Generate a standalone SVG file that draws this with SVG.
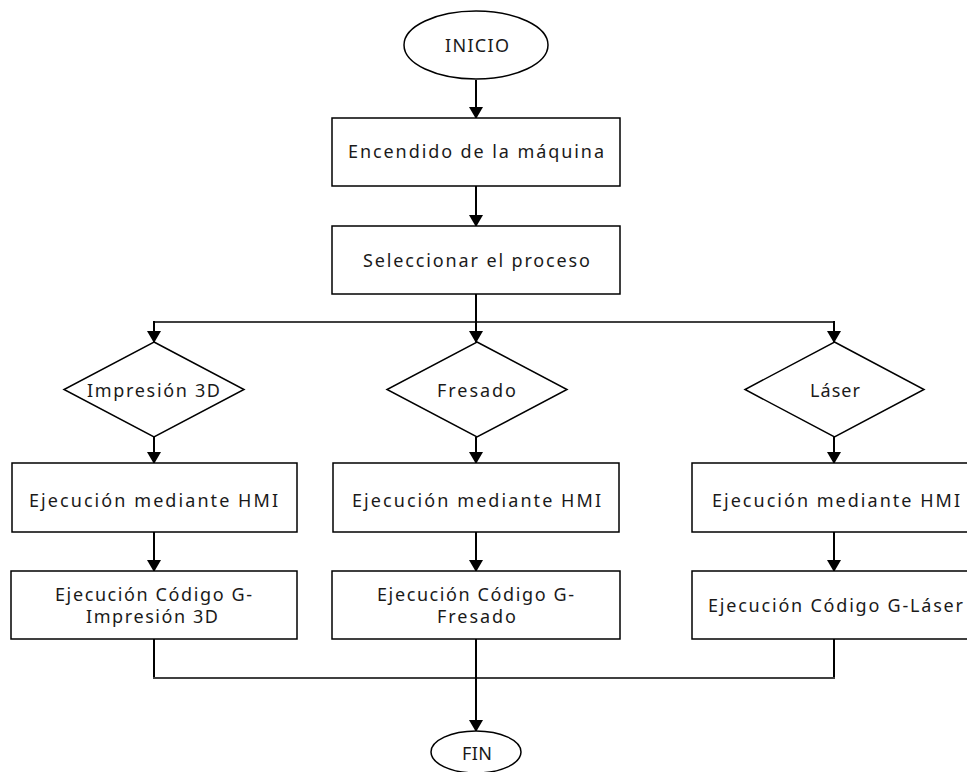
<svg xmlns="http://www.w3.org/2000/svg" width="967" height="772" viewBox="0 0 967 772">
<style>
.shape{fill:#fff;stroke:#000;stroke-width:1.5}
.t{font-family:"Noto Sans","Open Sans",sans-serif;font-size:18px;fill:#1a1a1a;text-anchor:start}
.c{fill:none;stroke:#000;stroke-width:2}
.h{fill:none;stroke:#404040;stroke-width:2}
</style>
<defs>
<marker id="arr" markerUnits="userSpaceOnUse" markerWidth="12" markerHeight="14" viewBox="0 0 12 14" refX="11" refY="7" orient="auto">
<path d="M0,0 L12,7 L0,14 Z" fill="#000"/>
</marker>
</defs>
<g id="connectors">
<line class="c" x1="476" y1="80" x2="476" y2="118" marker-end="url(#arr)"/>
<line class="c" x1="476" y1="186" x2="476" y2="226" marker-end="url(#arr)"/>
<line class="c" x1="476" y1="294" x2="476" y2="322"/>
<line class="h" x1="154" y1="322" x2="834" y2="322"/>
<line class="c" x1="154" y1="321" x2="154" y2="342" marker-end="url(#arr)"/>
<line class="c" x1="476" y1="321" x2="476" y2="342" marker-end="url(#arr)"/>
<line class="c" x1="834" y1="321" x2="834" y2="342" marker-end="url(#arr)"/>
<line class="c" x1="154" y1="437" x2="154" y2="463" marker-end="url(#arr)"/>
<line class="c" x1="476" y1="437" x2="476" y2="463" marker-end="url(#arr)"/>
<line class="c" x1="834" y1="437" x2="834" y2="463" marker-end="url(#arr)"/>
<line class="c" x1="154" y1="532" x2="154" y2="571" marker-end="url(#arr)"/>
<line class="c" x1="476" y1="532" x2="476" y2="571" marker-end="url(#arr)"/>
<line class="c" x1="834" y1="532" x2="834" y2="571" marker-end="url(#arr)"/>
<polyline class="c" points="154,639 154,678"/>
<polyline class="c" points="834,639 834,678"/>
<line class="h" x1="153" y1="678" x2="835" y2="678"/>
<line class="c" x1="476" y1="639" x2="476" y2="731" marker-end="url(#arr)"/>
</g>
<g id="inicio">
<ellipse class="shape" cx="476" cy="45" rx="72" ry="34"/>
<text class="t" x="445" y="52" textLength="64" lengthAdjust="spacing">INICIO</text>
</g>
<g id="encendido">
<rect class="shape" x="332" y="118" width="288" height="68"/>
<text class="t" x="348" y="158" textLength="256" lengthAdjust="spacing">Encendido de la máquina</text>
</g>
<g id="seleccionar">
<rect class="shape" x="332" y="226" width="288" height="68"/>
<text class="t" x="363" y="267" textLength="227" lengthAdjust="spacing">Seleccionar el proceso</text>
</g>
<g id="d-impresion">
<polygon class="shape" points="154,342 244,389.5 154,437 64,389.5"/>
<text class="t" x="87" y="397" textLength="133" lengthAdjust="spacing">Impresión 3D</text>
</g>
<g id="d-fresado">
<polygon class="shape" points="477,342 567,389.5 477,437 387,389.5"/>
<text class="t" x="437" y="397" textLength="79" lengthAdjust="spacing">Fresado</text>
</g>
<g id="d-laser">
<polygon class="shape" points="834.5,342 924,389.5 834.5,437 745,389.5"/>
<text class="t" x="810" y="397" textLength="50" lengthAdjust="spacing">Láser</text>
</g>
<g id="hmi-1">
<rect class="shape" x="12" y="463" width="285" height="69"/>
<text class="t" x="29" y="507" textLength="249" lengthAdjust="spacing">Ejecución mediante HMI</text>
</g>
<g id="hmi-2">
<rect class="shape" x="333" y="463" width="286" height="69"/>
<text class="t" x="352" y="507" textLength="249" lengthAdjust="spacing">Ejecución mediante HMI</text>
</g>
<g id="hmi-3">
<rect class="shape" x="692" y="463" width="285" height="69"/>
<text class="t" x="712" y="507" textLength="248" lengthAdjust="spacing">Ejecución mediante HMI</text>
</g>
<g id="gcode-1">
<rect class="shape" x="11" y="571" width="286" height="68"/>
<text class="t" x="55" y="601" textLength="197" lengthAdjust="spacing">Ejecución Código G-</text>
<text class="t" x="86" y="623" textLength="132" lengthAdjust="spacing">Impresión 3D</text>
</g>
<g id="gcode-2">
<rect class="shape" x="332" y="571" width="288" height="68"/>
<text class="t" x="377" y="601" textLength="197" lengthAdjust="spacing">Ejecución Código G-</text>
<text class="t" x="437" y="623" textLength="79" lengthAdjust="spacing">Fresado</text>
</g>
<g id="gcode-3">
<rect class="shape" x="692" y="571" width="285" height="68"/>
<text class="t" x="708" y="612" textLength="255" lengthAdjust="spacing">Ejecución Código G-Láser</text>
</g>
<g id="fin">
<ellipse class="shape" cx="476" cy="752" rx="45" ry="21"/>
<text class="t" x="462" y="760" textLength="30" lengthAdjust="spacing">FIN</text>
</g>
</svg>
